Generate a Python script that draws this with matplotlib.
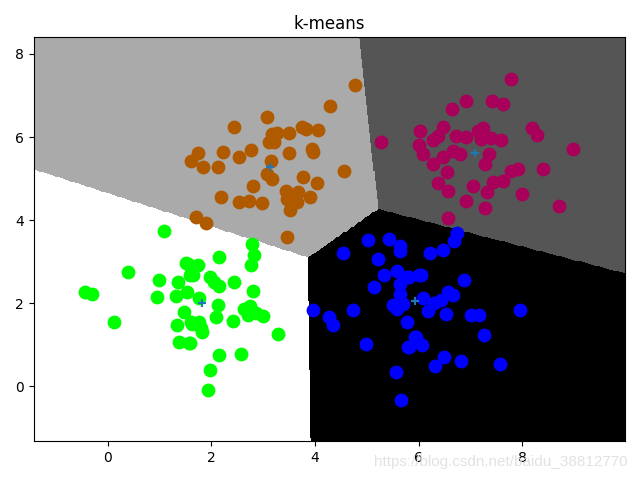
import numpy as np
import matplotlib
matplotlib.use("Agg")
import matplotlib.pyplot as plt

# points, one list per cluster
green_x = [1.09, 0.39, -0.43, -0.30, 0.98, 0.96, 0.12, 1.51, 1.35, 1.32, 1.53, 1.47, 1.34, 1.37,
           1.56, 1.58, 1.61, 2.79, 2.83, 2.76, 2.14, 1.55, 1.74, 1.64, 1.97, 2.15, 2.06, 2.44,
           2.81, 1.77, 2.12, 2.08, 1.77, 1.63, 1.81, 2.42, 2.63, 2.74, 2.71, 2.99, 2.87, 3.28,
           1.58, 2.14, 2.58, 1.97, 1.94, 1.80]
green_y = [3.75, 2.76, 2.28, 2.23, 2.57, 2.14, 1.56, 2.96, 2.52, 2.17, 2.27, 1.80, 1.48, 1.08,
           1.05, 2.67, 1.55, 3.43, 3.17, 2.91, 3.12, 2.95, 2.91, 2.67, 2.63, 2.41, 2.52, 2.52,
           2.30, 2.12, 1.95, 1.68, 1.56, 1.51, 1.31, 1.58, 1.87, 1.93, 1.72, 1.69, 1.77, 1.27,
           1.05, 0.76, 0.78, 0.40, -0.08, 1.40]

blue_x = [5.02, 5.42, 5.64, 5.64, 4.54, 5.22, 5.33, 5.59, 5.77, 6.01, 5.63, 5.13, 5.63, 5.50,
          5.69, 5.59, 3.96, 4.27, 4.35, 4.74, 5.77, 5.92, 5.79, 4.98, 5.57, 5.66, 6.74, 6.69,
          6.47, 6.22, 6.05, 5.82, 6.87, 6.08, 6.56, 6.66, 6.43, 6.30, 6.17, 6.53, 7.00, 7.16,
          7.96, 5.95, 6.06, 5.82, 7.26, 6.49, 6.32, 6.81, 7.57]
blue_y = [3.53, 3.55, 3.39, 3.25, 3.20, 3.07, 2.68, 2.77, 2.64, 2.69, 2.47, 2.40, 2.23, 1.95,
          1.99, 1.87, 1.84, 1.67, 1.48, 1.85, 1.55, 1.20, 0.96, 1.03, 0.34, -0.32, 3.69, 3.51,
          3.29, 3.20, 2.68, 2.64, 2.55, 2.13, 2.28, 2.19, 2.07, 2.00, 1.81, 1.75, 1.71, 1.72,
          1.84, 1.20, 0.99, 0.94, 1.23, 0.70, 0.48, 0.61, 0.53]

orange_x = [3.07, 2.43, 3.17, 3.11, 1.75, 1.61, 1.84, 2.23, 2.12, 2.54, 2.76, 3.15, 3.07, 3.17,
            2.81, 2.19, 2.53, 2.73, 2.97, 1.70, 1.90, 4.78, 4.29, 3.26, 3.49, 3.75, 3.83, 4.05,
            3.20, 3.49, 3.94, 3.97, 4.56, 3.77, 4.03, 3.44, 3.68, 3.91, 3.46, 3.65, 3.51, 3.46]
orange_y = [6.49, 6.25, 6.07, 5.87, 5.61, 5.43, 5.29, 5.63, 5.29, 5.51, 5.70, 5.43, 5.10, 4.99,
            4.83, 4.57, 4.43, 4.45, 4.41, 4.07, 3.94, 7.26, 6.75, 6.11, 6.11, 6.25, 6.19, 6.17,
            5.87, 5.61, 5.71, 5.63, 5.18, 5.03, 4.89, 4.71, 4.67, 4.55, 4.51, 4.43, 4.25, 3.59]

magenta_x = [5.27, 6.91, 6.65, 6.47, 6.03, 6.01, 6.27, 6.37, 6.72, 6.92, 6.09, 6.47, 6.67, 6.79,
             6.27, 6.54, 6.37, 6.56, 6.91, 6.56, 7.05, 7.79, 7.42, 7.62, 7.24, 7.15, 8.18, 8.29,
             7.40, 7.58, 7.21, 8.98, 7.36, 7.27, 7.79, 7.92, 8.39, 7.63, 7.44, 7.31, 7.99, 7.27,
             8.70]
magenta_y = [5.89, 6.86, 6.67, 6.25, 6.14, 5.82, 5.94, 6.03, 6.03, 5.99, 5.59, 5.51, 5.67, 5.59,
             5.35, 5.15, 4.90, 4.71, 4.45, 4.05, 4.83, 7.40, 6.88, 6.80, 6.23, 6.15, 6.21, 6.05,
             5.97, 5.94, 5.95, 5.71, 5.59, 5.35, 5.19, 5.23, 5.22, 4.95, 4.91, 4.69, 4.63, 4.29,
             4.33]

# centroids: blue, magenta, orange, green (label order -> gray level)
cent_x = [5.92, 7.08, 3.13, 1.82]
cent_y = [2.05, 5.62, 5.27, 2.00]

all_x = np.array(green_x + blue_x + orange_x + magenta_x)
all_y = np.array(green_y + blue_y + orange_y + magenta_y)

# mesh for decision regions
h = 0.02
x_min, x_max = all_x.min() - 1, all_x.max() + 1
y_min, y_max = all_y.min() - 1, all_y.max() + 1
xx, yy = np.meshgrid(np.arange(x_min, x_max, h), np.arange(y_min, y_max, h))
cx = np.array(cent_x)
cy = np.array(cent_y)
d = (xx[..., None] - cx) ** 2 + (yy[..., None] - cy) ** 2
Z = np.argmin(d, axis=2)

fig = plt.figure(figsize=(6.4, 4.8), dpi=100)
plt.imshow(Z, interpolation='nearest', extent=(xx.min(), xx.max(), yy.min(), yy.max()),
           cmap=plt.cm.gray, aspect='auto', origin='lower')

plt.scatter(green_x, green_y, c='#00ff00', s=80)
plt.scatter(blue_x, blue_y, c='#0000ff', s=80)
plt.scatter(orange_x, orange_y, c='#b05a00', s=80)
plt.scatter(magenta_x, magenta_y, c='#a8005a', s=80)
plt.scatter(cent_x, cent_y, marker='+')

plt.xlim(x_min, x_max)
plt.ylim(y_min, y_max)
plt.xticks([0, 2, 4, 6, 8])
plt.yticks([0, 2, 4, 6, 8])
plt.title('k-means')
plt.tight_layout()

# watermark sits under the tick labels, as in the source image
fig.text(0.981, 0.029, 'https://blog.csdn.net/baidu_38812770', ha='right', va='baseline',
         fontsize=11, family='Liberation Sans', color='#e2e2e2', zorder=0)

plt.savefig('out.png')
